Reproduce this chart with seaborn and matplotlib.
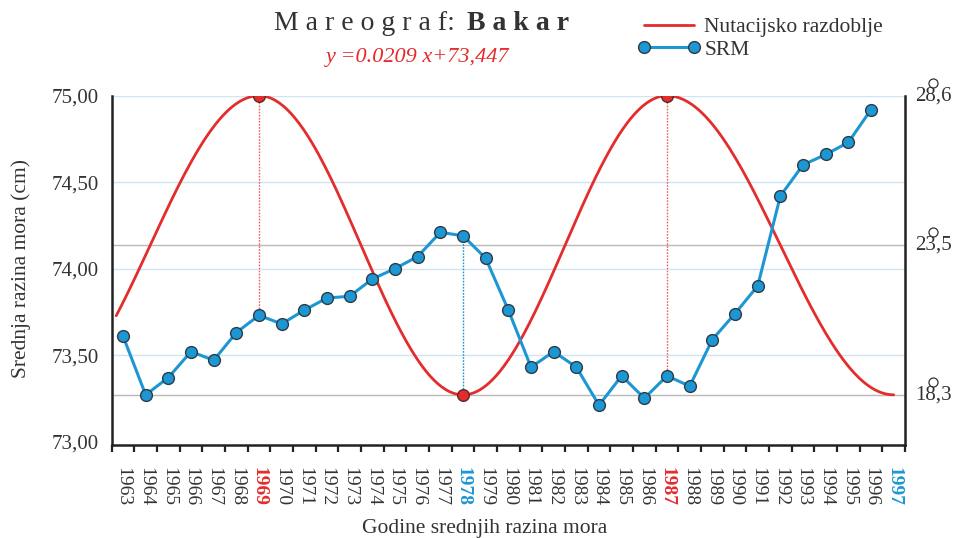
import numpy as np
import pandas as pd
import matplotlib
matplotlib.use('Agg')
import matplotlib.pyplot as plt
import matplotlib.transforms as mtransforms
import seaborn as sns

# Srednje razine mora (SRM), mareograf Bakar
godine = list(range(1963, 1997))
srm = [73.61, 73.27, 73.37, 73.52, 73.47, 73.63, 73.73, 73.68, 73.76, 73.83,
       73.84, 73.94, 74.00, 74.07, 74.21, 74.19, 74.06, 73.76, 73.43, 73.52,
       73.43, 73.21, 73.38, 73.25, 73.38, 73.32, 73.59, 73.74, 73.90, 74.42,
       74.60, 74.66, 74.73, 74.92]

# Nutacijsko razdoblje: ekstremi krivulje (godina, razina)
nut_godine = [1959.4, 1969, 1978, 1987, 1997]
nut_razine = [73.27, 75.00, 73.27, 75.00, 73.27]
nut_od, nut_do = 1962.7, 1997.0

# Desna os - kutovi
kut_razine = [73.27, 74.137, 75.00]
kut_oznake = ["18,3", "23,5", "28,6"]

lijeve_oznake = [73.0, 73.5, 74.0, 74.5, 75.0]
crvene_godine = [1969, 1987]
plave_godine = [1978, 1997]

CRVENA = "#e42c2c"
PLAVA = "#1c97d4"


def nutacija(xs):
    out = []
    for x in xs:
        for i in range(len(nut_godine) - 1):
            if nut_godine[i] <= x <= nut_godine[i + 1]:
                f = (x - nut_godine[i]) / (nut_godine[i + 1] - nut_godine[i])
                v0, v1 = nut_razine[i], nut_razine[i + 1]
                out.append(v0 + (v1 - v0) * (1 - np.cos(np.pi * f)) / 2)
                break
    return out


sns.set_theme(style="white")
plt.rcParams['font.family'] = ['Liberation Serif', 'DejaVu Serif']

fig = plt.figure(figsize=(9.56, 5.38), dpi=100)
ax = fig.add_axes([0.1168, 0.1729, 0.8299, 0.6492])

# pomocne linije
for y in [74.5, 74.0, 73.5, 75.0]:
    ax.axhline(y, color="#cfe5f4", lw=1.0, zorder=1)
for y in kut_razine[:2]:
    ax.axhline(y, color="#b9b9b9", lw=1.0, zorder=1)

df_srm = pd.DataFrame({"Godina": godine, "SRM": srm})
xs = np.linspace(nut_od, nut_do, 400)
df_nut = pd.DataFrame({"Godina": xs, "Nutacija": nutacija(xs)})

sns.lineplot(data=df_nut, x="Godina", y="Nutacija", ax=ax, color=CRVENA,
             lw=2.0, label="Nutacijsko razdoblje", zorder=3)

# isprekidane okomite linije
srm_map = dict(zip(godine, srm))
for g in crvene_godine:
    ax.plot([g, g], [75.0, srm_map[g]], color="#f06060", lw=1.0, ls=(0, (1.2, 1)), zorder=2)
ax.plot([1978, 1978], [73.27, srm_map[1978]], color=PLAVA, lw=1.0, ls=(0, (1.2, 1)), zorder=2)

sns.lineplot(data=df_srm, x="Godina", y="SRM", ax=ax, color=PLAVA, lw=2.2,
             marker="o", markersize=8.5, markerfacecolor=PLAVA,
             markeredgecolor="#2d3b46", markeredgewidth=1.0, label="SRM", zorder=4)

# crvene tocke ekstrema
ext_x = [1969, 1978, 1987]
ext_y = [75.0, 73.27, 75.0]
ax.scatter(ext_x, ext_y, s=70, color=CRVENA, edgecolor="#5a2a2a", lw=1.0, zorder=5)

ax.set_xlim(1962.5, 1997.5)
ax.set_ylim(72.98, 75.0)

# osi
ax.spines["top"].set_visible(False)
for s in ["left", "bottom", "right"]:
    ax.spines[s].set_color("#222222")
    ax.spines[s].set_linewidth(1.8)

ax.set_yticks(lijeve_oznake)
ax.set_yticklabels([f"{v:.2f}".replace(".", ",") for v in lijeve_oznake], fontsize=15, color="#333333")
ax.tick_params(axis="y", length=0, pad=9)

sve_godine = list(range(1963, 1998))
ax.set_xticks(sve_godine)
ax.set_xticklabels([str(g) for g in sve_godine], rotation=270, fontsize=14, va="top", ha="center")
ax.set_xticks(np.arange(1962.5, 1998, 1.0), minor=True)
ax.tick_params(axis="x", which="major", length=0, pad=16)
ax.tick_params(axis="x", which="minor", length=5, width=1.6, color="#222222", direction="out", bottom=True)
for lab in ax.get_xticklabels():
    g = int(lab.get_text())
    if g in crvene_godine:
        lab.set_color(CRVENA)
        lab.set_fontweight("bold")
    elif g in plave_godine:
        lab.set_color(PLAVA)
        lab.set_fontweight("bold")
    else:
        lab.set_color("#333333")

ax.set_xlabel("Godine srednjih razina mora", fontsize=15.5, color="#333333")
ax.xaxis.set_label_coords(0.47, -0.212)
ax.set_ylabel("Srednja razina mora (cm)", fontsize=15.5, color="#333333")
ax.yaxis.set_label_coords(-0.102, 0.505)

# desne oznake kutova (kruzic stupnja iznad zareza)
desno = mtransforms.blended_transform_factory(ax.transAxes, ax.transData)
kruzic = mtransforms.offset_copy(desno, fig=fig, x=20, y=9.5, units="points")
for v, t in zip(kut_razine, kut_oznake):
    ax.annotate(t, xy=(1, v), xycoords=("axes fraction", "data"), xytext=(7, 0),
                textcoords="offset points", va="center", ha="left", fontsize=15, color="#333333")
    ax.plot([1], [v], transform=kruzic, marker="o", ms=6.5, mfc="none", mec="#333333",
            mew=0.9, clip_on=False, zorder=6)

# naslov
fig.text(0.476, 0.944, "M a r e o g r a f:", ha="right", va="baseline", fontsize=20, color="#333333")
fig.text(0.488, 0.944, "B a k a r", ha="left", va="baseline", fontsize=20, fontweight="bold", color="#333333")
fig.text(0.437, 0.885, "y =0.0209 x+73,447", ha="center", va="baseline", fontsize=16,
         style="italic", color=CRVENA)

h, l = ax.get_legend_handles_labels()
ax.get_legend().remove()
fig.legend(h, l, loc="upper left", bbox_to_anchor=(0.667, 0.968), frameon=False, fontsize=15.5,
           handlelength=2.9, handletextpad=0.2, labelspacing=0.12, borderpad=0, borderaxespad=0,
           numpoints=2, labelcolor="#333333")

plt.savefig("out.png", dpi=100)
plt.close()
